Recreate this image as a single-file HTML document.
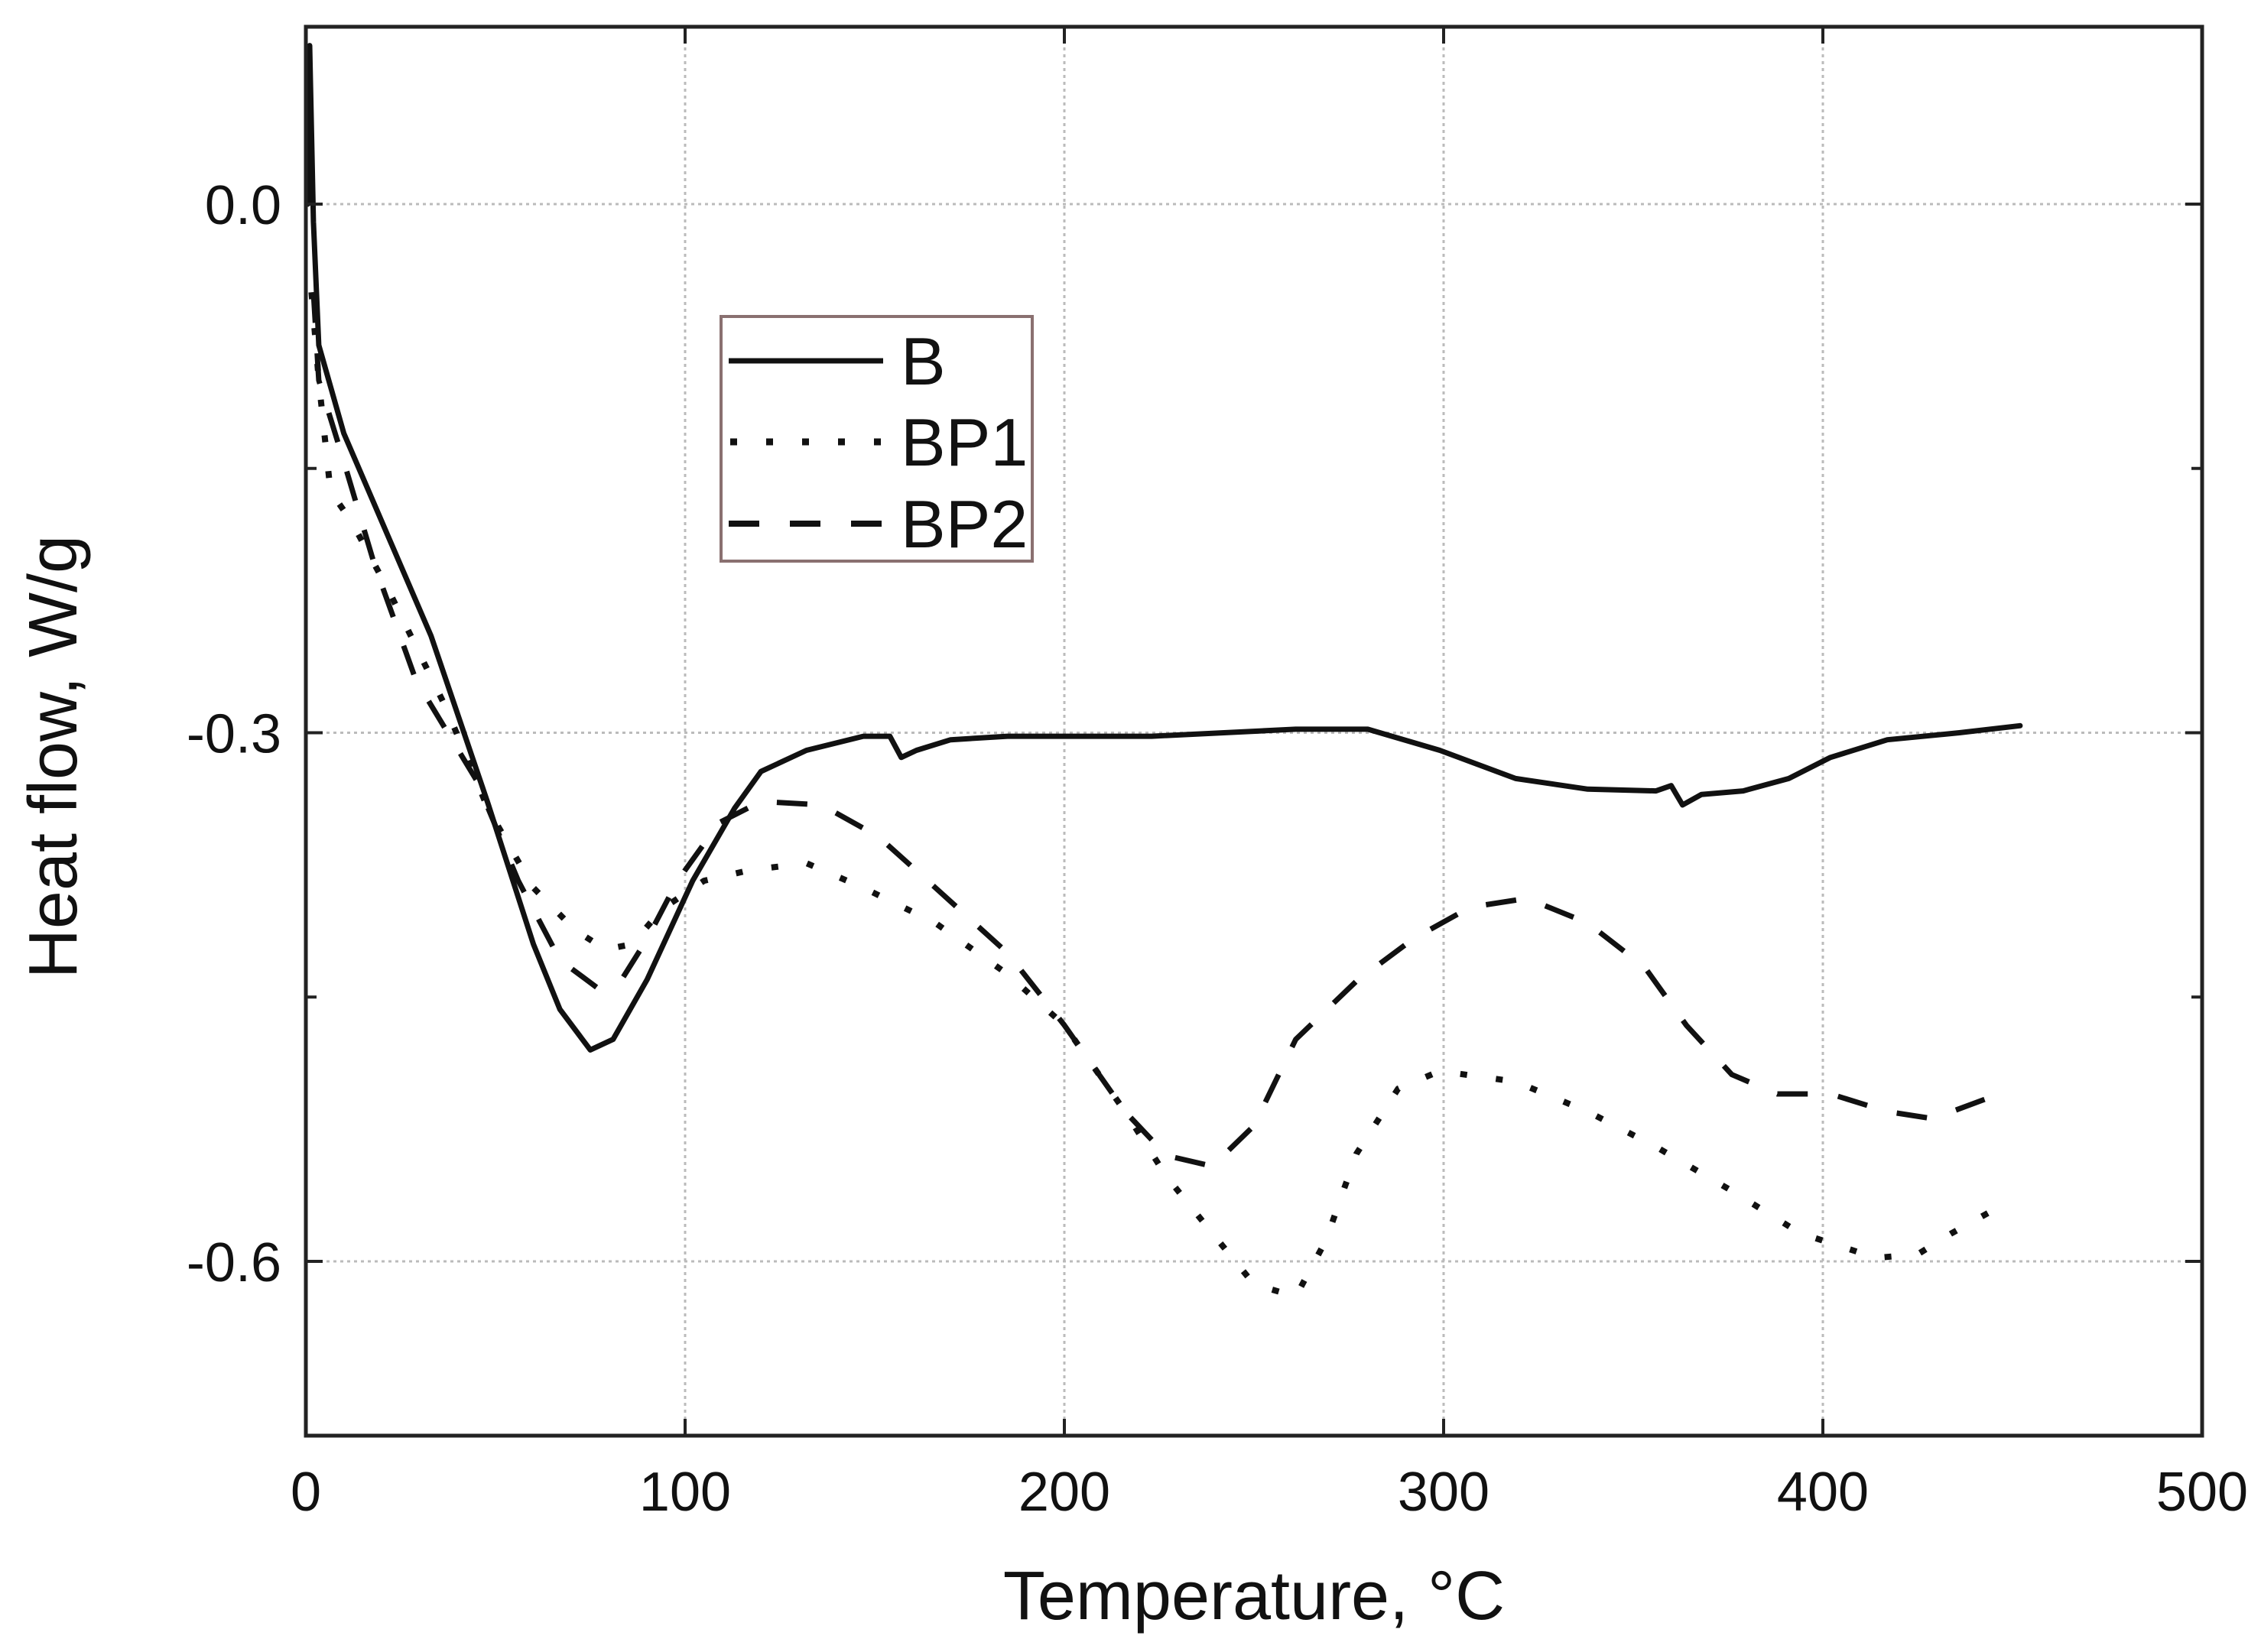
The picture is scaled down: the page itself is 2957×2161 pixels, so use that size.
<!DOCTYPE html>
<html><head><meta charset="utf-8">
<style>html,body{margin:0;padding:0;background:#fff;}svg{display:block;}
text{font-family:"Liberation Sans",Arial,sans-serif;fill:#111;}</style></head>
<body>
<svg id="chart" width="2957" height="2161" viewBox="0 0 2957 2161" xmlns="http://www.w3.org/2000/svg">
<g id="grid"></g>
<g id="series"></g>
<rect x="400" y="35" width="2480" height="1843" fill="none" stroke="#222" stroke-width="5"/>
<g id="ticks"></g>
<text x="1640" y="2118" font-size="90" text-anchor="middle">Temperature, °C</text>
<text transform="translate(100,990) rotate(-90)" font-size="90" text-anchor="middle">Heat flow, W/g</text>
<g>
<rect x="943" y="414" width="407" height="320" fill="#fff" stroke="#8a7070" stroke-width="4"/>
<line x1="953" y1="472" x2="1155" y2="472" stroke="#111" stroke-width="7"/>
<text x="1178" y="503" font-size="88">B</text>
<line x1="955" y1="578" x2="1160" y2="578" stroke="#111" stroke-width="9" stroke-dasharray="9 38"/>
<text x="1178" y="609" font-size="88">BP1</text>
<line x1="953" y1="685" x2="1155" y2="685" stroke="#111" stroke-width="8" stroke-dasharray="40 40"/>
<text x="1178" y="716" font-size="88">BP2</text>
</g>
</svg>
<script>
const xTicks=[0,100,200,300,400,500];
const yTicks=[0.0,-0.3,-0.6];
const yTickLabels=["0.0","-0.3","-0.6"];
const yMinor=[-0.15,-0.45];
const tB=[0.5,1,2,3.4,10,22,33,48,60,67,75,81,90,102,113,120,132,147,154,157,161,170,185,223,261,280,299,319,338,356,360,363,368,379,391,402,417,436,452];
const vB=[0.0,0.09,-0.01,-0.08,-0.13,-0.19,-0.245,-0.34,-0.42,-0.457,-0.48,-0.474,-0.44,-0.384,-0.343,-0.322,-0.31,-0.302,-0.302,-0.314,-0.31,-0.304,-0.302,-0.302,-0.298,-0.298,-0.31,-0.326,-0.332,-0.333,-0.33,-0.341,-0.335,-0.333,-0.326,-0.314,-0.304,-0.3,-0.296];
const tBP1=[1.5,3.4,6.5,12,22,37,48,60,71,79,86,94,105,117,132,147,166,185,200,216,227,239,250,261,269,277,288,299,319,338,356,376,394,414,425,434,444];
const vBP1=[-0.05,-0.1,-0.163,-0.18,-0.22,-0.286,-0.343,-0.388,-0.412,-0.423,-0.42,-0.4,-0.384,-0.378,-0.374,-0.388,-0.408,-0.437,-0.466,-0.515,-0.552,-0.584,-0.613,-0.62,-0.588,-0.539,-0.502,-0.492,-0.498,-0.515,-0.535,-0.56,-0.584,-0.598,-0.596,-0.584,-0.572];
const tBP2=[2,3.4,10,18,29,45,56,67,77,83,90,98,109,120,136,151,166,185,200,216,227,239,250,261,277,292,307,322,338,353,364,376,388,402,417,429,444];
const vBP2=[-0.05,-0.1,-0.146,-0.204,-0.27,-0.327,-0.384,-0.429,-0.445,-0.441,-0.417,-0.384,-0.351,-0.339,-0.341,-0.359,-0.388,-0.425,-0.466,-0.515,-0.54,-0.546,-0.523,-0.474,-0.441,-0.417,-0.399,-0.394,-0.408,-0.433,-0.466,-0.494,-0.505,-0.505,-0.515,-0.519,-0.507];
const NS="http://www.w3.org/2000/svg";
const X=t=>400+t*4.96;
const Y=v=>267-v*2305;
function mk(tag,attrs,parent){const e=document.createElementNS(NS,tag);for(const k in attrs)e.setAttribute(k,attrs[k]);parent.appendChild(e);return e;}
const grid=document.getElementById('grid'),ticks=document.getElementById('ticks'),series=document.getElementById('series');
xTicks.forEach(t=>{
  if(t>0&&t<500){const g=mk('line',{x1:X(t),x2:X(t),y1:35,y2:1878,stroke:'#bbb','stroke-width':3,'stroke-dasharray':'4 5'},grid);
  
  }
  const tk=mk('line',{x1:X(t),x2:X(t),y1:1878,y2:1856,stroke:'#222','stroke-width':4},ticks);
  
  
  const tk2=mk('line',{x1:X(t),x2:X(t),y1:35,y2:57,stroke:'#222','stroke-width':4},ticks);
  
  
  const lb=mk('text',{x:X(t),y:1976,'font-size':72,'text-anchor':'middle'},ticks);lb.textContent=String(t);
  
  
});
yTicks.forEach((v,i)=>{
  const g=mk('line',{x1:400,x2:2880,y1:Y(v),y2:Y(v),stroke:'#bbb','stroke-width':3,'stroke-dasharray':'4 5'},grid);
  
  
  [[400,422],[2880,2858]].forEach(p=>{const tk=mk('line',{x1:p[0],x2:p[1],y1:Y(v),y2:Y(v),stroke:'#222','stroke-width':4},ticks);
  
  });
  const lb=mk('text',{x:368,y:Y(v)+26,'font-size':72,'text-anchor':'end'},ticks);lb.textContent=yTickLabels[i];
  
  
});
yMinor.forEach(v=>{[[400,414],[2880,2866]].forEach(p=>{const tk=mk('line',{x1:p[0],x2:p[1],y1:Y(v),y2:Y(v),stroke:'#222','stroke-width':4},ticks);
  
  });});
function draw(ts,vs,name,dash,w){
  const d=ts.map((t,i)=>(i?'L':'M')+X(t).toFixed(1)+','+Y(vs[i]).toFixed(1)).join(' ');
  const p=mk('path',{d:d,fill:'none',stroke:'#111','stroke-width':w,'stroke-linejoin':'round','stroke-linecap':dash?'butt':'round'},series);
  if(dash)p.setAttribute('stroke-dasharray',dash);
  
  
}
draw(tBP1,vBP1,'series-bp1','9 38',8);
draw(tBP2,vBP2,'series-bp2','40 40',7);
draw(tB,vB,'series-b',null,7);
</script>
</body></html>
